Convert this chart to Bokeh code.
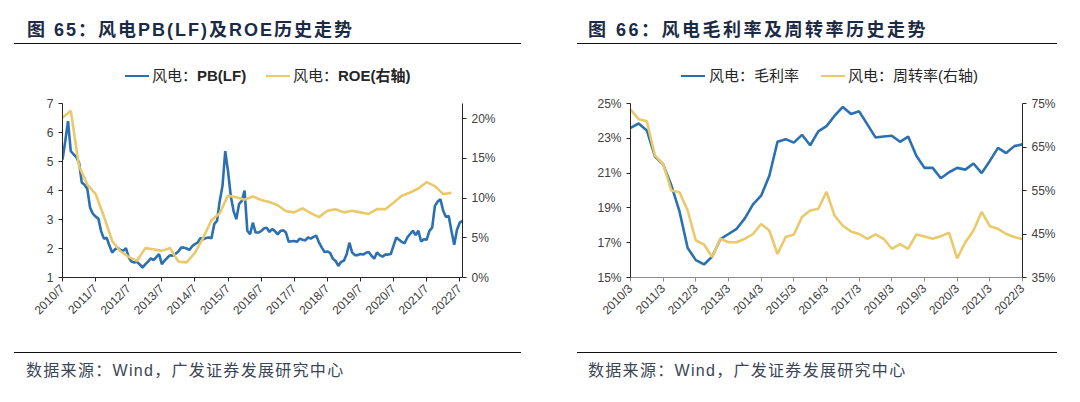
import math
from bokeh.plotting import figure
from bokeh.layouts import row, column
from bokeh.models import (Range1d, LinearAxis, FixedTicker, Div)
from bokeh.embed import file_html
from bokeh.resources import INLINE

# ---------------- data: left chart (monthly PB, quarterly ROE) ----------------
pb_months = list(range(146))          # months since 2010/7
pb_values = [
    5.07, 5.70, 6.39, 5.36, 5.25, 5.15, 4.96, 4.27, 4.20, 4.05,
    3.41, 3.20, 3.10, 3.03, 2.60, 2.34, 2.37, 2.10, 1.86, 1.97,
    2.03, 1.95, 1.92, 2.01, 1.70, 1.55, 1.52, 1.54, 1.45, 1.34,
    1.45, 1.55, 1.66, 1.60, 1.70, 1.81, 1.46, 1.58, 1.68, 1.77,
    1.75, 1.82, 1.90, 2.03, 2.03, 2.00, 1.95, 2.08, 2.15, 2.20,
    2.36, 2.32, 2.36, 2.38, 2.35, 2.84, 2.95, 3.64, 4.16, 5.36,
    4.67, 3.81, 3.30, 3.01, 3.53, 3.64, 4.00, 2.61, 2.49, 2.89,
    2.55, 2.55, 2.60, 2.69, 2.72, 2.57, 2.67, 2.60, 2.49, 2.60,
    2.63, 2.55, 2.23, 2.25, 2.26, 2.23, 2.34, 2.30, 2.28, 2.38,
    2.34, 2.40, 2.44, 2.20, 2.03, 1.88, 1.90, 1.85, 1.65, 1.57,
    1.40, 1.54, 1.58, 1.80, 2.20, 1.86, 1.77, 1.77, 1.81, 1.79,
    1.85, 1.88, 1.75, 1.65, 1.86, 1.77, 1.72, 1.79, 1.79, 1.81,
    2.10, 2.38, 2.30, 2.23, 2.18, 2.38, 2.50, 2.61, 2.46, 2.61,
    2.24, 2.32, 2.30, 2.61, 2.72, 3.47, 3.62, 3.70, 3.30, 3.09,
    3.12, 2.60, 2.13, 2.65, 2.89, 2.95]
roe_months = list(range(0, 142, 3))
roe_values = [
    20.1, 21.0, 14.0, 11.7, 10.5, 7.7, 4.6, 3.3, 2.6, 2.1,
    3.7, 3.55, 3.35, 3.7, 2.0, 1.9, 3.1, 5.0, 7.2, 8.1,
    10.3, 10.1, 9.8, 10.2, 9.75, 9.5, 9.1, 8.35, 8.2, 8.7,
    8.1, 7.6, 8.4, 8.6, 8.2, 8.4, 8.2, 8.0, 8.6, 8.6,
    9.4, 10.3, 10.7, 11.2, 12.0, 11.5, 10.5, 10.65]
left_x_ticks = list(range(0, 145, 12))
left_x_labels = ["2010/7", "2011/7", "2012/7", "2013/7", "2014/7", "2015/7", "2016/7",
                 "2017/7", "2018/7", "2019/7", "2020/7", "2021/7", "2022/7"]
left_y_ticks = [1, 2, 3, 4, 5, 6, 7]
left_y_labels = ["1", "2", "3", "4", "5", "6", "7"]
left_y2_ticks = [0, 5, 10, 15, 20]
left_y2_labels = ["0%", "5%", "10%", "15%", "20%"]

# ---------------- data: right chart (quarterly) ----------------
q_index = list(range(49))             # quarters since 2010/3
gm_values = [
    23.6, 23.85, 23.45, 21.95, 21.5, 20.3, 18.8, 16.7, 16.0, 15.75,
    16.2, 17.2, 17.5, 17.8, 18.4, 19.2, 19.7, 20.85, 22.8, 22.95,
    22.75, 23.2, 22.6, 23.4, 23.7, 24.3, 24.8, 24.4, 24.55, 23.8,
    23.05, 23.1, 23.15, 22.8, 23.1, 22.0, 21.3, 21.3, 20.7, 21.05,
    21.3, 21.2, 21.55, 21.0, 21.7, 22.45, 22.15, 22.55, 22.65]
turn_values = [
    73.6, 71.4, 70.9, 63.0, 61.1, 55.0, 54.6, 50.4, 43.5, 42.6,
    39.7, 43.9, 43.1, 43.1, 43.9, 45.0, 47.3, 45.8, 40.4, 44.3,
    44.9, 48.9, 50.4, 50.8, 54.7, 49.2, 46.9, 45.6, 45.0, 43.9,
    44.9, 43.9, 41.6, 42.7, 41.6, 44.9, 44.4, 43.9, 44.5, 45.3,
    39.4, 43.1, 45.8, 50.1, 46.8, 46.2, 45.0, 44.3, 43.8]
right_x_ticks = list(range(0, 49, 4))
right_x_labels = ["2010/3", "2011/3", "2012/3", "2013/3", "2014/3", "2015/3", "2016/3",
                  "2017/3", "2018/3", "2019/3", "2020/3", "2021/3", "2022/3"]
right_y_ticks = [15, 17, 19, 21, 23, 25]
right_y_labels = ["15%", "17%", "19%", "21%", "23%", "25%"]
right_y2_ticks = [35, 45, 55, 65, 75]
right_y2_labels = ["35%", "45%", "55%", "65%", "75%"]

titles = ["图 65：风电PB(LF)及ROE历史走势", "图 66：风电毛利率及周转率历史走势"]
legend_left = ["风电：PB(LF)", "风电：ROE(右轴)"]
legend_right = ["风电：毛利率", "风电：周转率(右轴)"]
source_text = "数据来源：Wind，广发证券发展研究中心"

# ---------------- styles ----------------
FONT = "Liberation Sans, Noto Sans CJK SC"
CSS_FONT = "'Liberation Sans', 'Noto Sans CJK SC', sans-serif"
BLUE = "#2B70B0"
GOLD = "#E9C96A"
SERIES_COLORS = [BLUE, GOLD]
TITLE_C = "#1C2B45"
TXT_C = "#404040"
TOP_H = 90          # title + legend strip
FIG_H = 252         # chart strip
BOT_H = 60          # source strip
FR_TOP = 13         # frame top inside chart strip (page y 103)
FR_H = 174          # frame height (page y 103 .. 277)


def style_axis(ax, ticks, labels, line_color="#262626", orient=None):
    ax.ticker = FixedTicker(ticks=ticks)
    ax.major_label_overrides = {t: l for t, l in zip(ticks, labels)}
    ax.axis_line_color = line_color
    ax.axis_line_width = 1
    ax.major_tick_line_color = line_color
    ax.major_tick_in = 0
    ax.major_tick_out = 4
    ax.minor_tick_line_color = None
    ax.major_label_text_font = FONT
    ax.major_label_text_font_size = "12px"
    ax.major_label_text_color = TXT_C
    ax.major_label_standoff = 5
    if orient is not None:
        ax.major_label_orientation = orient


def panel(width, b_left, b_right, xr, yr, y2r):
    p = figure(width=width, height=FIG_H, output_backend="svg", toolbar_location=None,
               x_range=Range1d(*xr), y_range=Range1d(*yr),
               min_border_left=b_left, min_border_right=b_right,
               min_border_top=FR_TOP, min_border_bottom=FIG_H - FR_TOP - FR_H,
               outline_line_color=None, border_fill_color="white",
               background_fill_color="white", margin=0)
    p.grid.visible = False
    p.extra_y_ranges = {"r": Range1d(*y2r)}
    p.add_layout(LinearAxis(y_range_name="r"), "right")
    return p


def header_div(width, text, tx, lx0, lx1, spacing, labels, bold_tail, line_xs, text_xs):
    parts = [f'<div style="position:relative;width:{width}px;height:{TOP_H}px;'
             f'font-family:{CSS_FONT};">',
             f'<div style="position:absolute;left:{tx}px;top:19px;line-height:22px;'
             f'font-size:18px;font-weight:bold;color:{TITLE_C};'
             f'letter-spacing:{spacing}px;white-space:nowrap;">{text}</div>',
             f'<div style="position:absolute;left:{lx0}px;width:{lx1 - lx0}px;top:43px;'
             f'height:0;border-top:1.6px solid #111;"></div>']
    for lab, color, lx, txx in zip(labels, SERIES_COLORS, line_xs, text_xs):
        head, tail = lab[:3], lab[3:]
        if bold_tail:
            tail = f'<b>{tail}</b>'
        parts.append(f'<div style="position:absolute;left:{lx}px;top:75px;width:24px;'
                     f'height:0;border-top:2.6px solid {color};"></div>')
        parts.append(f'<div style="position:absolute;left:{txx}px;top:66px;line-height:20px;'
                     f'font-size:15px;color:#262626;white-space:nowrap;">{head}{tail}</div>')
    parts.append('</div>')
    return Div(text="".join(parts), width=width, height=TOP_H, margin=0)


def source_div(width, tx, lx0, lx1):
    html = (f'<div style="position:relative;width:{width}px;height:{BOT_H}px;">'
            f'<div style="position:absolute;left:{lx0}px;width:{lx1 - lx0}px;top:10px;'
            f'height:0;border-top:1.2px solid #111;"></div>'
            f'<div style="position:absolute;left:{tx}px;top:19px;line-height:20px;'
            f'font-family:{CSS_FONT};font-size:16px;color:#3B4656;letter-spacing:1.3px;'
            f'white-space:nowrap;">{source_text}</div></div>')
    return Div(text=html, width=width, height=BOT_H, margin=0)


# ---------------- left chart ----------------
pl = panel(548, 62, 86, (0, 145), (1, 7), (0, 21.9))
pl.line(pb_months, pb_values, line_color=BLUE, line_width=2.6)
pl.line(roe_months, roe_values, line_color=GOLD, line_width=2.6, y_range_name="r")
style_axis(pl.xaxis[0], left_x_ticks, left_x_labels, orient=math.pi / 4)
style_axis(pl.yaxis[0], left_y_ticks, left_y_labels)
style_axis(pl.yaxis[1], left_y2_ticks, left_y2_labels)

# ---------------- right chart ----------------
pr = panel(532, 82, 58, (0, 48), (15, 25), (35, 75))
pr.line(q_index, gm_values, line_color=BLUE, line_width=2.6)
pr.line(q_index, turn_values, line_color=GOLD, line_width=2.6, y_range_name="r")
style_axis(pr.xaxis[0], right_x_ticks, right_x_labels, line_color="#8C8C8C", orient=math.pi / 4)
style_axis(pr.yaxis[0], right_y_ticks, right_y_labels)
style_axis(pr.yaxis[1], right_y2_ticks, right_y2_labels)

layout = column(
    row(header_div(548, titles[0], 27, 14, 521, 2, legend_left, True, [125, 266], [152, 293]),
        header_div(532, titles[1], 40, 29, 509, 2.5, legend_right, False, [133, 273], [161, 300])),
    row(pl, pr),
    row(source_div(548, 26, 14, 521), source_div(532, 40, 29, 509)),
)
open("out.html", "w").write(file_html(layout, INLINE))
